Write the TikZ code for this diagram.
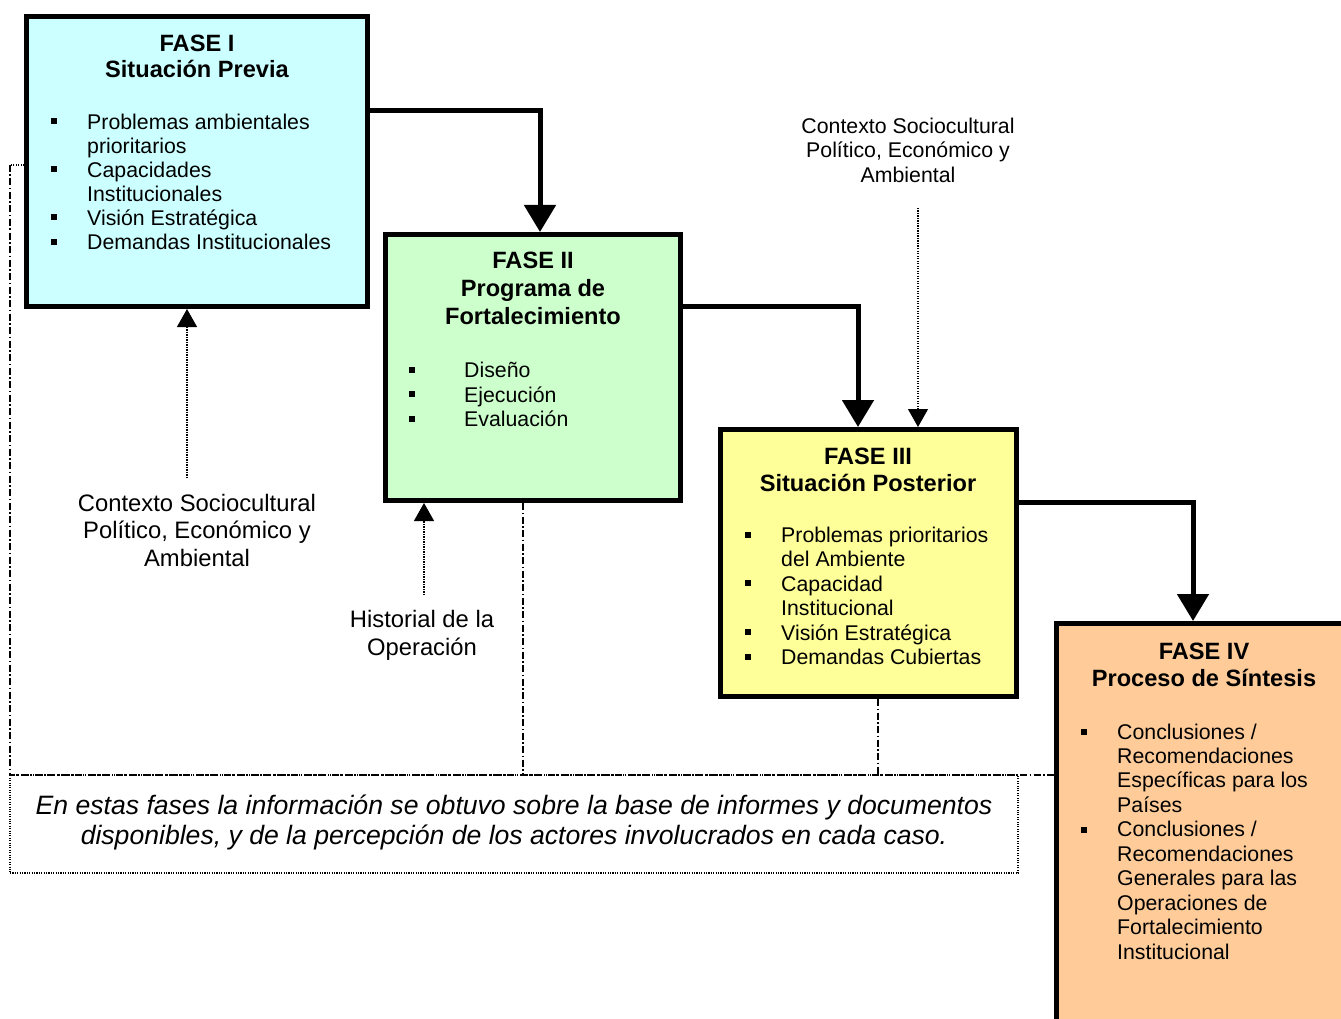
\documentclass[tikz,border=0pt]{standalone}
\usepackage{fontspec}
\setmainfont{Liberation Sans}
\usetikzlibrary{arrows.meta}
\definecolor{fcyan}{HTML}{CCFFFF}
\definecolor{fgreen}{HTML}{CCFFCC}
\definecolor{fyellow}{HTML}{FFFF99}
\definecolor{forange}{HTML}{FFCC99}
\begin{document}
\begin{tikzpicture}[x=1pt,y=-1pt,
  phase/.style={draw=black, line width=5pt, inner sep=0pt},
  txt/.style={inner sep=0pt, font=\fontsize{21.3}{24}\selectfont, anchor=base west},
  ttl/.style={inner sep=0pt, font=\fontsize{23.6}{26}\selectfont\bfseries, anchor=base},
  bul/.style={fill=black, inner sep=0pt, minimum size=6pt},
  bigarrow/.style={line width=5pt, -{Triangle[width=31pt,length=27pt]}},
  dotarrow/.style={line width=1.2pt, dash pattern=on 1.2pt off 1.3pt, -{Triangle[width=20pt,length=18pt]}},
  dashdot/.style={line width=1.3pt, dash pattern=on 7pt off 2.5pt on 1.5pt off 2.5pt},
  dotline/.style={line width=1.1pt, dash pattern=on 1.1pt off 1.3pt},
  lbl/.style={inner sep=0pt, align=center}]
\useasboundingbox (0,0) rectangle (1341,1019);
\clip (0,0) rectangle (1341,1019);

\coordinate (l1) at (10,165);
\coordinate (l2) at (10,775);
\coordinate (p2) at (523,775);
\coordinate (p3) at (878,775);

% phase boxes
\node[phase, fill=fcyan, minimum width=341pt, minimum height=290pt] (f1) at (197,161.5) {};
\node[phase, fill=fgreen, minimum width=295pt, minimum height=266pt] (f2) at (533,367.5) {};
\node[phase, fill=fyellow, minimum width=296pt, minimum height=267pt] (f3) at (868.5,563) {};
\node[phase, fill=forange, minimum width=320pt, minimum height=420pt] (f4) at (1216.5,833.5) {};

% FASE I text
\node[ttl] (t1a) at (197,51.7) {FASE I};
\node[ttl] (t1b) at (197,77.3) {Situación Previa};
\foreach \t [count=\i] in {Problemas ambientales, prioritarios, Capacidades, Institucionales, Visión Estratégica, Demandas Institucionales}
  \node[txt] (a\i) at (87,{129.3+(\i-1)*24}) {\t};
\foreach \i in {0,2,4,5}
  \node[bul] (ab\i) at (54,{121.5+\i*24}) {};

% FASE II text
\node[ttl] (t2a) at (533,268) {FASE II};
\node[ttl] (t2b) at (533,296) {Programa de};
\node[ttl] (t2c) at (533,324) {Fortalecimiento};
\foreach \t [count=\i] in {Diseño, Ejecución, Evaluación}
  \node[txt] (b\i) at (464,{377.5+(\i-1)*24.5}) {\t};
\foreach \i in {0,1,2}
  \node[bul] (bb\i) at (412,{369.5+\i*24.5}) {};

% FASE III text
\node[ttl] (t3a) at (868,464) {FASE III};
\node[ttl] (t3b) at (868,491) {Situación Posterior};
\foreach \t [count=\i] in {Problemas prioritarios, del Ambiente, Capacidad, Institucional, Visión Estratégica, Demandas Cubiertas}
  \node[txt] (c\i) at (781,{542.5+(\i-1)*24.4}) {\t};
\foreach \i in {0,2,4,5}
  \node[bul] (cb\i) at (748,{534.5+\i*24.4}) {};

% FASE IV text
\node[ttl] (t4a) at (1204,659.3) {FASE IV};
\node[ttl] (t4b) at (1204,686) {Proceso de Síntesis};
\foreach \t [count=\i] in {Conclusiones /, Recomendaciones, Específicas para los, Países, Conclusiones /, Recomendaciones, Generales para las, Operaciones de, Fortalecimiento, Institucional}
  \node[txt] (d\i) at (1117,{739+(\i-1)*24.48}) {\t};
\foreach \i in {0,4}
  \node[bul] (db\i) at (1084,{732+\i*24.48}) {};

% thick arrows
\coordinate (c1) at (540,111);
\coordinate (c2) at (858,306);
\coordinate (c3) at (1193,502);
\draw[bigarrow] (f1.east |- c1) -- (c1) -- (f2.north -| c1);
\draw[bigarrow] (f2.east |- c2) -- (c2) -- (f3.north -| c2);
\draw[bigarrow] (f3.east |- c3) -- (c3) -- (f4.north -| c3);

% context labels and dotted arrows
\node[lbl, font=\fontsize{23.8}{27.5}\selectfont] (ctx1) at (197,530) {Contexto Sociocultural\\Político, Económico y\\Ambiental};
\node[lbl, font=\fontsize{23.8}{28}\selectfont] (hist) at (422,635) {Historial de la\\Operación};
\node[lbl, font=\fontsize{21.3}{24.5}\selectfont] (ctx2) at (908,150) {Contexto Sociocultural\\Político, Económico y\\Ambiental};
\coordinate (d1) at (187,478);
\coordinate (d2) at (424,595);
\coordinate (d3) at (918,208);
\draw[dotarrow] (d1) -- (f1.south -| d1);
\draw[dotarrow] (d2) -- (f2.south -| d2);
\draw[dotarrow] (d3) -- (f3.north -| d3);

% note box
\node[draw, dotline, minimum width=1008pt, minimum height=98pt, inner sep=0pt, outer sep=0pt] (note) at (514,824) {};
\node[lbl, font=\fontsize{26.6}{30}\selectfont\itshape] (notet) at (514,822) {En estas fases la información se obtuvo sobre la base de informes y documentos\\disponibles, y de la percepción de los actores involucrados en cada caso.};

% dash-dot connectors
\draw[dotline] (f1.west |- l1) -- (l1);
\draw[dashdot] (l1) -- (l2) -- (f4.west |- l2);
\draw[dashdot] (f2.south -| p2) -- (p2);
\draw[dashdot] (f3.south -| p3) -- (p3);
\end{tikzpicture}
\end{document}
